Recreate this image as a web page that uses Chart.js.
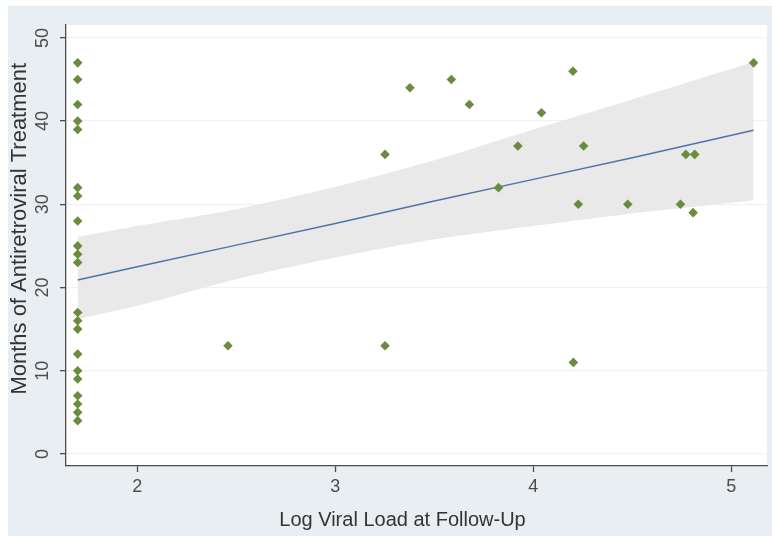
<!DOCTYPE html>
<html>
<head>
<meta charset="utf-8">
<script src="https://cdn.jsdelivr.net/npm/chart.js@4/dist/chart.umd.min.js"></script>
<style>
  html, body { margin: 0; padding: 0; background: #ffffff; }
  canvas { display: block; }
</style>
</head>
<body>
<canvas id="chart" width="772" height="536"></canvas>
<script>
// One entry per patient: log10 viral load at follow-up and months on treatment
const viralLoad = [
  1.699, 1.699, 1.699, 1.699, 1.699, 1.699, 1.699, 1.699, 1.699, 1.699, 1.699,
  1.699, 1.699, 1.699, 1.699, 1.699, 1.699, 1.699, 1.699, 1.699, 1.699,
  2.458, 3.251, 3.251, 3.377, 3.586, 3.677, 3.824, 3.922, 4.041, 4.200,
  4.202, 4.227, 4.254, 4.477, 4.743, 4.770, 4.807, 4.815, 5.112
];
const monthsTreated = [
  47, 45, 42, 40, 39, 32, 31, 28, 25, 24, 23,
  17, 16, 15, 12, 10, 9, 7, 6, 5, 4,
  13, 36, 13, 44, 45, 42, 32, 37, 41, 46,
  11, 30, 37, 30, 30, 36, 29, 36, 47
];

// Fitted line with its confidence band, sampled along the observed x range
const fitX     = [1.699, 2.0, 2.5, 3.0, 3.5, 4.0, 4.5, 5.112];
const fitY     = [20.9, 22.5, 25.1, 27.7, 30.4, 33.0, 35.6, 38.9];
const ciUpper  = [26.1, 27.4, 29.4, 32.1, 35.3, 39.0, 42.6, 47.1];
const ciLower  = [16.2, 17.8, 21.0, 23.6, 25.8, 27.4, 28.9, 30.5];

// Axis tick values
const xTicks = [2, 3, 4, 5];
const yTicks = [0, 10, 20, 30, 40, 50];

const xTitle = 'Log Viral Load at Follow-Up';
const yTitle = 'Months of Antiretroviral Treatment';

const pts = (xs, ys) => xs.map((x, i) => ({ x: x, y: ys[i] }));

const FONT = '"Liberation Sans", Arial, sans-serif';
const AXIS_COLOR = '#4d4d4d';
const TITLE_COLOR = '#333333';

// Graph region (light bluish grey) with a white plot region inside
const backgroundPlugin = {
  id: 'regions',
  beforeDraw(chart) {
    const { ctx, width, height, chartArea } = chart;
    ctx.save();
    ctx.fillStyle = '#ffffff';
    ctx.fillRect(0, 0, width, height);
    ctx.fillStyle = '#e8eef2';
    ctx.fillRect(8, 6, width - 8, height - 6);
    ctx.fillStyle = '#ffffff';
    ctx.fillRect(chartArea.left, chartArea.top,
                 chartArea.right - chartArea.left, chartArea.bottom - chartArea.top);
    ctx.restore();
  }
};

// Axis titles, placed inside the space the two scales reserve for them
const axisTitlePlugin = {
  id: 'axisTitles',
  afterDraw(chart) {
    const { ctx, chartArea } = chart;
    const w = chartArea.right - chartArea.left;
    const h = chartArea.bottom - chartArea.top;
    ctx.save();
    ctx.fillStyle = TITLE_COLOR;
    ctx.textAlign = 'center';
    ctx.textBaseline = 'middle';

    ctx.font = '20px ' + FONT;
    ctx.fillText(xTitle, chartArea.left + w * 0.48, chart.scales.x.bottom - 16);

    ctx.translate(chart.scales.y.left + 20, chartArea.top + h * 0.462);
    ctx.rotate(-Math.PI / 2);
    ctx.font = '22px ' + FONT;
    ctx.fillText(yTitle, 0, 0);
    ctx.restore();
  }
};

new Chart(document.getElementById('chart'), {
  type: 'scatter',
  data: {
    datasets: [
      {
        label: 'Months of treatment',
        data: pts(viralLoad, monthsTreated),
        pointStyle: 'rectRot',
        pointRadius: 4.8,
        pointHoverRadius: 4.8,
        backgroundColor: '#6a8c3c',
        borderColor: '#6a8c3c',
        borderWidth: 0
      },
      {
        type: 'line',
        label: 'Fitted values',
        data: pts(fitX, fitY),
        borderColor: '#4a76a6',
        borderWidth: 1.4,
        pointRadius: 0,
        fill: false,
        tension: 0
      },
      {
        type: 'line',
        label: 'Upper bound',
        data: pts(fitX, ciUpper),
        borderWidth: 0,
        borderColor: 'rgba(0,0,0,0)',
        pointRadius: 0,
        fill: false,
        tension: 0.25
      },
      {
        type: 'line',
        label: '95% CI',
        data: pts(fitX, ciLower),
        borderWidth: 0,
        borderColor: 'rgba(0,0,0,0)',
        backgroundColor: '#e9e9e9',
        pointRadius: 0,
        fill: { target: 2 },
        tension: 0.25
      }
    ]
  },
  options: {
    responsive: false,
    animation: false,
    devicePixelRatio: 1,
    layout: { padding: { left: 0, right: 5, top: 25, bottom: 0 } },
    plugins: {
      legend: { display: false },
      tooltip: { enabled: false },
      filler: { propagate: false }
    },
    scales: {
      x: {
        type: 'linear',
        min: 1.64,
        max: 5.18,
        afterBuildTicks(scale) { scale.ticks = xTicks.map(v => ({ value: v })); },
        afterFit(scale) { scale.height = 70; },
        ticks: {
          color: AXIS_COLOR,
          padding: 4,
          font: { family: FONT, size: 18 },
          maxRotation: 0,
          callback: v => String(v)
        },
        grid: {
          display: true,
          drawOnChartArea: false,
          drawTicks: true,
          tickLength: 6,
          tickColor: AXIS_COLOR,
          tickWidth: 1.3
        },
        border: { display: true, color: AXIS_COLOR, width: 1.3 },
        title: { display: false, text: xTitle }
      },
      y: {
        type: 'linear',
        min: -1.45,
        max: 51.55,
        afterBuildTicks(scale) { scale.ticks = yTicks.map(v => ({ value: v })); },
        afterFit(scale) { scale.width = 66; },
        ticks: {
          color: AXIS_COLOR,
          padding: 7,
          minRotation: 90,
          maxRotation: 90,
          crossAlign: 'center',
          font: { family: FONT, size: 18 },
          callback: v => String(v)
        },
        grid: {
          display: true,
          drawOnChartArea: true,
          color: '#eef2f4',
          lineWidth: 1.3,
          drawTicks: true,
          tickLength: 6,
          tickColor: AXIS_COLOR,
          tickWidth: 1.3
        },
        border: { display: true, color: AXIS_COLOR, width: 1.3 },
        title: { display: false, text: yTitle }
      }
    }
  },
  plugins: [backgroundPlugin, axisTitlePlugin]
});
</script>
</body>
</html>
